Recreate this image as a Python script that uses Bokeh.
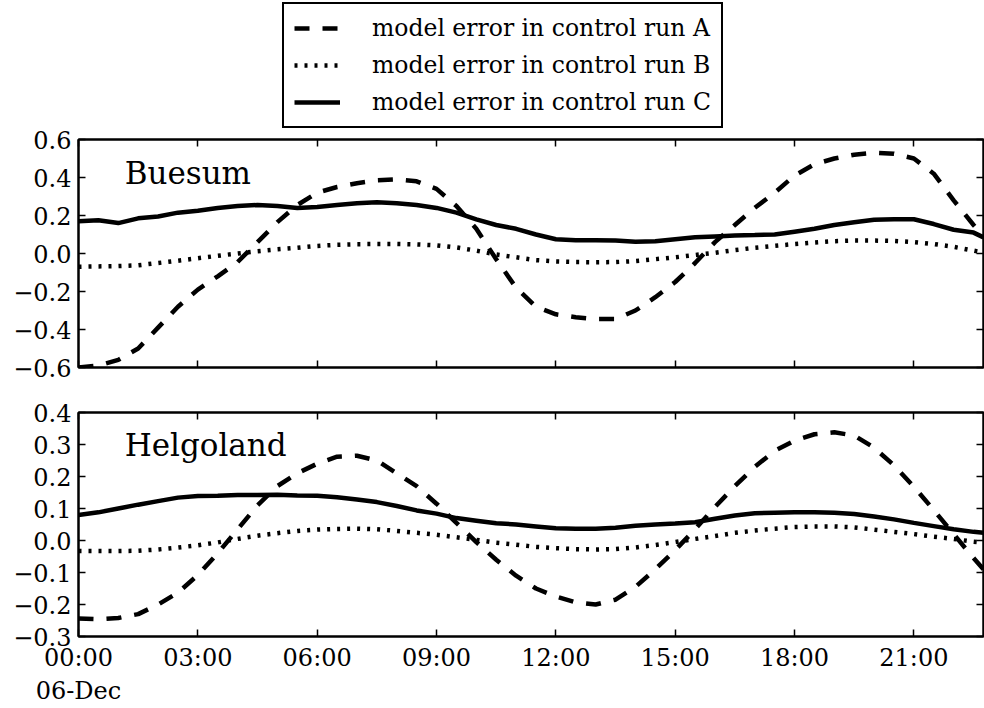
from datetime import datetime, timedelta
from bokeh.plotting import figure
from bokeh.layouts import column
from bokeh.models import (Range1d, FixedTicker, DatetimeTickFormatter, LinearAxis,
                          CustomJSTickFormatter, Legend, LegendItem, Label)
from bokeh.embed import file_html
from bokeh.resources import INLINE

# ---------------- data ----------------
hours = [0.0, 0.5, 1.0, 1.5, 2.0, 2.5, 3.0, 3.5, 4.0, 4.5, 5.0, 5.5, 6.0, 6.5, 7.0, 7.5,
         8.0, 8.5, 9.0, 9.5, 10.0, 10.5, 11.0, 11.5, 12.0, 12.5, 13.0, 13.5, 14.0, 14.5,
         15.0, 15.5, 16.0, 16.5, 17.0, 17.5, 18.0, 18.5, 19.0, 19.5, 20.0, 20.5, 21.0,
         21.5, 22.0, 22.5, 22.75]

buesum_A = [-0.60, -0.59, -0.56, -0.50, -0.39, -0.28, -0.19, -0.12, -0.045, 0.06, 0.165,
            0.255, 0.32, 0.35, 0.37, 0.385, 0.39, 0.38, 0.34, 0.25, 0.13, -0.03, -0.18,
            -0.28, -0.32, -0.335, -0.345, -0.345, -0.30, -0.23, -0.15, -0.05, 0.06, 0.15,
            0.24, 0.32, 0.41, 0.47, 0.50, 0.52, 0.53, 0.525, 0.50, 0.42, 0.28, 0.15, 0.09]
buesum_B = [-0.07, -0.068, -0.066, -0.062, -0.05, -0.038, -0.025, -0.012, 0.0, 0.012,
            0.022, 0.03, 0.04, 0.046, 0.049, 0.05, 0.05, 0.048, 0.043, 0.032, 0.015,
            -0.005, -0.02, -0.035, -0.042, -0.045, -0.046, -0.045, -0.04, -0.03, -0.02,
            -0.008, 0.004, 0.018, 0.03, 0.04, 0.05, 0.058, 0.065, 0.068, 0.068, 0.066,
            0.06, 0.05, 0.035, 0.015, 0.005]
buesum_C = [0.17, 0.175, 0.16, 0.185, 0.195, 0.215, 0.225, 0.24, 0.25, 0.255, 0.25, 0.24,
            0.245, 0.255, 0.265, 0.27, 0.265, 0.255, 0.24, 0.215, 0.18, 0.15, 0.13, 0.10,
            0.075, 0.07, 0.07, 0.068, 0.062, 0.065, 0.075, 0.085, 0.09, 0.095, 0.097, 0.10,
            0.115, 0.13, 0.15, 0.165, 0.178, 0.18, 0.18, 0.155, 0.125, 0.11, 0.085]

helgo_A = [-0.244, -0.246, -0.242, -0.23, -0.20, -0.163, -0.108, -0.04, 0.035, 0.11, 0.17,
           0.21, 0.24, 0.262, 0.265, 0.25, 0.21, 0.17, 0.115, 0.055, -0.005, -0.06, -0.11,
           -0.15, -0.175, -0.193, -0.20, -0.185, -0.145, -0.09, -0.03, 0.035, 0.105, 0.17,
           0.23, 0.28, 0.312, 0.332, 0.338, 0.328, 0.29, 0.235, 0.168, 0.095, 0.02, -0.055,
           -0.09]
helgo_B = [-0.033, -0.033, -0.033, -0.032, -0.028, -0.022, -0.015, -0.006, 0.005, 0.015,
           0.023, 0.03, 0.034, 0.036, 0.037, 0.035, 0.03, 0.024, 0.018, 0.01, 0.002, -0.007,
           -0.013, -0.02, -0.024, -0.027, -0.028, -0.027, -0.022, -0.014, -0.005, 0.005,
           0.014, 0.024, 0.031, 0.037, 0.042, 0.044, 0.044, 0.041, 0.034, 0.027, 0.02,
           0.012, 0.005, -0.004, -0.007]
helgo_C = [0.08, 0.088, 0.10, 0.112, 0.123, 0.134, 0.139, 0.14, 0.142, 0.142, 0.143, 0.141,
           0.14, 0.135, 0.128, 0.12, 0.108, 0.094, 0.084, 0.07, 0.062, 0.054, 0.05, 0.044,
           0.038, 0.037, 0.037, 0.04, 0.046, 0.05, 0.053, 0.057, 0.068, 0.078, 0.085,
           0.087, 0.088, 0.088, 0.087, 0.083, 0.075, 0.066, 0.055, 0.045, 0.035, 0.027,
           0.024]

series_labels = ["model error in control run A", "model error in control run B",
                 "model error in control run C"]
stations = ["Buesum", "Helgoland"]

top_yticks = [-0.6, -0.4, -0.2, 0.0, 0.2, 0.4, 0.6]
top_ylabels = ["\u22120.6", "\u22120.4", "\u22120.2", "0.0", "0.2", "0.4", "0.6"]
bot_yticks = [-0.3, -0.2, -0.1, 0.0, 0.1, 0.2, 0.3, 0.4]
bot_ylabels = ["\u22120.3", "\u22120.2", "\u22120.1", "0.0", "0.1", "0.2", "0.3", "0.4"]
xtick_hours = [0, 3, 6, 9, 12, 15, 18, 21]

start = datetime(2013, 12, 6, 0, 0)
times = [start + timedelta(hours=h) for h in hours]
epoch = datetime(1970, 1, 1)
def ms(t):
    return (t - epoch).total_seconds() * 1000.0
xticks = [ms(start + timedelta(hours=h)) for h in xtick_hours]

FONT = "DejaVu Serif"
FS = "24px"
styles = [dict(line_dash="15 13"), dict(line_dash="3 7"), dict(line_dash="solid")]
LW = 4.5

x_range = Range1d(start=times[0], end=times[-1])
empty_fmt = CustomJSTickFormatter(code="return ''")


def style_axes(p, yticks, ylabels, show_x_labels):
    p.outline_line_color = "black"
    p.outline_line_width = 2
    p.xgrid.visible = False
    p.ygrid.visible = False
    for ax in [p.xaxis[0], p.yaxis[0]]:
        ax.axis_line_width = 2
        ax.major_tick_in = 7
        ax.major_tick_out = 0
        ax.major_tick_line_width = 1.5
        ax.minor_tick_line_color = None
        ax.major_label_text_font = FONT
        ax.major_label_text_font_size = FS
        ax.major_label_text_color = "black"
    p.yaxis[0].ticker = FixedTicker(ticks=yticks)
    p.yaxis[0].major_label_overrides = dict(zip(yticks, ylabels))
    p.yaxis[0].major_label_standoff = 7
    p.xaxis[0].ticker = FixedTicker(ticks=xticks)
    if show_x_labels:
        p.xaxis[0].formatter = DatetimeTickFormatter(
            hours="%H:%M", days="%H:%M", context="%d-%b", context_which="start",
            context_location="below")
        p.xaxis[0].major_label_standoff = 7
    else:
        p.xaxis[0].formatter = empty_fmt
        p.xaxis[0].major_label_standoff = 0
        p.xaxis[0].major_label_text_font_size = "0px"
    ax_r = LinearAxis(ticker=FixedTicker(ticks=yticks), formatter=empty_fmt,
                      major_tick_in=7, major_tick_out=0, major_tick_line_width=1.5,
                      minor_tick_line_color=None, axis_line_width=2,
                      major_label_standoff=0, major_label_text_font_size="0px")
    ax_t = LinearAxis(ticker=FixedTicker(ticks=xticks), formatter=empty_fmt,
                      major_tick_in=7, major_tick_out=0, major_tick_line_width=1.5,
                      minor_tick_line_color=None, axis_line_width=2,
                      major_label_standoff=0, major_label_text_font_size="0px")
    p.add_layout(ax_r, "right")
    p.add_layout(ax_t, "above")


def make_panel(vals, yticks, ylabels, station, label_y, show_x_labels, h, b_top, b_bot):
    p = figure(x_axis_type="datetime", x_range=x_range,
               y_range=Range1d(yticks[0], yticks[-1]),
               width=984, height=h,
               min_border_left=78, min_border_right=1, min_border_top=b_top,
               min_border_bottom=b_bot,
               toolbar_location=None, output_backend="svg")
    p.background_fill_color = "white"
    p.border_fill_color = "white"
    rends = []
    for v, st in zip(vals, styles):
        rends.append(p.line(times, v, line_color="black", line_width=LW, **st))
    style_axes(p, yticks, ylabels, show_x_labels)
    p.add_layout(Label(x=ms(start + timedelta(hours=1.16)), y=label_y, text=station,
                       text_font=FONT, text_font_size="31px", text_color="black",
                       text_baseline="alphabetic"))
    return p, rends


# ---------------- legend strip ----------------
lg = figure(width=984, height=128, x_range=Range1d(-10, -9), y_range=Range1d(-10, -9),
            x_axis_location=None, y_axis_location=None, min_border=0,
            toolbar_location=None, output_backend="svg")
lg.grid.visible = False
lg.outline_line_color = None
lg_items = []
for lab, v, st in zip(series_labels, [buesum_A, buesum_B, buesum_C], styles):
    r = lg.line(hours, v, line_color="black", line_width=LW, **st)
    lg_items.append(LegendItem(label=lab, renderers=[r]))
legend = Legend(items=lg_items, location=(204, 0), border_line_color="black",
                border_line_width=2, border_line_alpha=1, padding=10, spacing=9,
                glyph_width=46, glyph_height=28, label_height=28, label_standoff=32,
                label_text_font=FONT, label_text_font_size="23.5px",
                label_text_color="black", margin=0,
                background_fill_color="white", background_fill_alpha=1)
lg.add_layout(legend, "center")

top, _ = make_panel([buesum_A, buesum_B, buesum_C], top_yticks, top_ylabels,
                    stations[0], 0.423, False, 262, 11, 23)
bot, _ = make_panel([helgo_A, helgo_B, helgo_C], bot_yticks, bot_ylabels,
                    stations[1], 0.298, True, 318, 22, 68)

layout = column(lg, top, bot, spacing=0)
open("out.html", "w").write(file_html(layout, INLINE))
